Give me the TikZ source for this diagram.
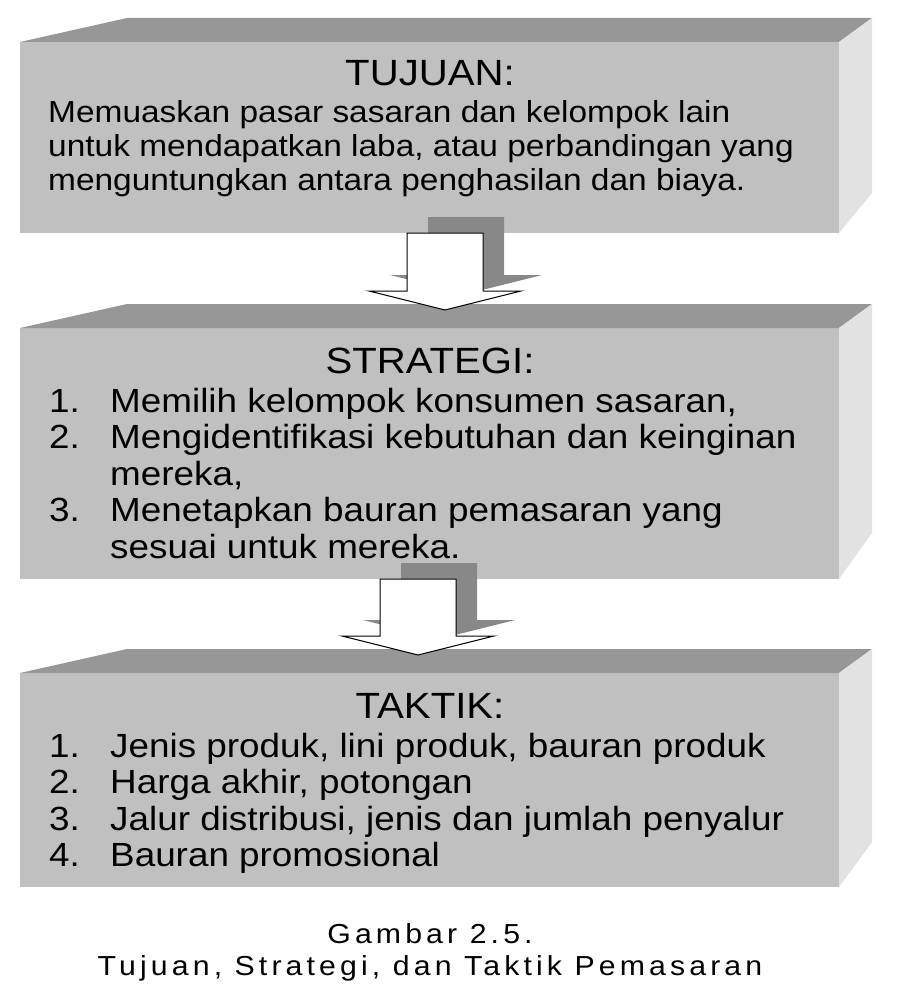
\documentclass[tikz,border=0pt]{standalone}
\usepackage{fontspec}
\setmainfont[FakeStretch=1.1]{Liberation Sans}
\usetikzlibrary{calc}
\definecolor{frontgray}{HTML}{C0C0C0}
\definecolor{topgray}{HTML}{979797}
\definecolor{sidegray}{HTML}{E2E2E2}
\definecolor{shadegray}{HTML}{888888}
\tikzset{
  front/.style={fill=frontgray,inner sep=0,outer sep=0,anchor=north west},
  head/.style={font=\fontsize{36.5}{40}\selectfont,anchor=base,inner sep=0},
  body/.style={font=\fontsize{33.5}{36.5}\selectfont,anchor=base west,inner sep=0},
  caption/.style={font=\fontsize{27.5}{32}\selectfont\addfontfeatures{LetterSpace=15},anchor=base,inner sep=0},
  shade/.style={fill=shadegray},
  whitearrow/.style={fill=white,draw=black,line width=1pt,line join=miter}
}

\begin{document}
\begin{tikzpicture}[x=1pt,y=-1pt]
  \def\faces#1#2{%
    \fill[topgray](#1.north west)-- ++(107,-24)--($(#1.north east)+(33,-24)$)--(#1.north east)--cycle;
    \fill[sidegray](#1.north east)-- ++(33,-24)--($(#1.south east)+(33,-#2)$)--(#1.south east)--cycle;}
  \def\blockarrow#1#2#3#4{%
    \path[#3]($(#1)+(#4)+(-38,0)$)--($(#1)+(#4)+(38,0)$)--($(#2)+(#4)+(38,-19)$)--($(#2)+(#4)+(76,-19)$)
      --($(#2)+(#4)$)--($(#2)+(#4)+(-76,-19)$)--($(#2)+(#4)+(-38,-19)$)--cycle;}
  \fill[white](0,0)rectangle(900,995);
  \useasboundingbox(0,0)rectangle(900,995);

  \node[front,minimum width=819,minimum height=191](tujuan)at(20,42){};
  \node[front,minimum width=819,minimum height=251](strategi)at(20,328){};
  \node[front,minimum width=819,minimum height=214](taktik)at(20,673){};
  \faces{tujuan}{40}
  \faces{strategi}{46}
  \faces{taktik}{45}

  \node[head](tujuanhead)at(430,86){TUJUAN:};
  \node[body](tujuantext)at(48,123){\fontsize{30.4}{34}\selectfont
    \begin{tabular}[t]{@{}l@{}}
      Memuaskan pasar sasaran dan kelompok lain\\
      untuk mendapatkan laba, atau perbandingan yang\\
      menguntungkan antara penghasilan dan biaya.
    \end{tabular}};

  \node[head](strategihead)at(430,373){STRATEGI:};
  \node[body](strategitext)at(49,412){%
    \begin{tabular}[t]{@{}p{61pt}@{}l@{}}
      1. & Memilih kelompok konsumen sasaran,\\
      2. & Mengidentifikasi kebutuhan dan keinginan\\
         & mereka,\\
      3. & Menetapkan bauran pemasaran yang\\
         & sesuai untuk mereka.
    \end{tabular}};

  \node[head](taktikhead)at(430,718){TAKTIK:};
  \node[body](taktiktext)at(49,757){%
    \begin{tabular}[t]{@{}p{61pt}@{}l@{}}
      1. & Jenis produk, lini produk, bauran produk\\
      2. & Harga akhir, potongan\\
      3. & Jalur distribusi, jenis dan jumlah penyalur\\
      4. & Bauran promosional
    \end{tabular}};

  \coordinate(a1)at($(tujuan.south)+(15.5,0)$);
  \coordinate(t1)at($(strategi.north)+(15.5,-18)$);
  \coordinate(a2)at($(strategi.south)+(-11.5,0)$);
  \coordinate(t2)at($(taktik.north)+(-11.5,-18)$);
  \blockarrow{a1}{t1}{shade}{21,-16}
  \blockarrow{a1}{t1}{whitearrow}{0,0}
  \blockarrow{a2}{t2}{shade}{21,-16}
  \blockarrow{a2}{t2}{whitearrow}{0,0}

  \node[caption](gambar)at(430,943){Gambar 2.5.};
  \node[caption](judul)at(430,975){Tujuan, Strategi, dan Taktik Pemasaran};
\end{tikzpicture}
\end{document}
